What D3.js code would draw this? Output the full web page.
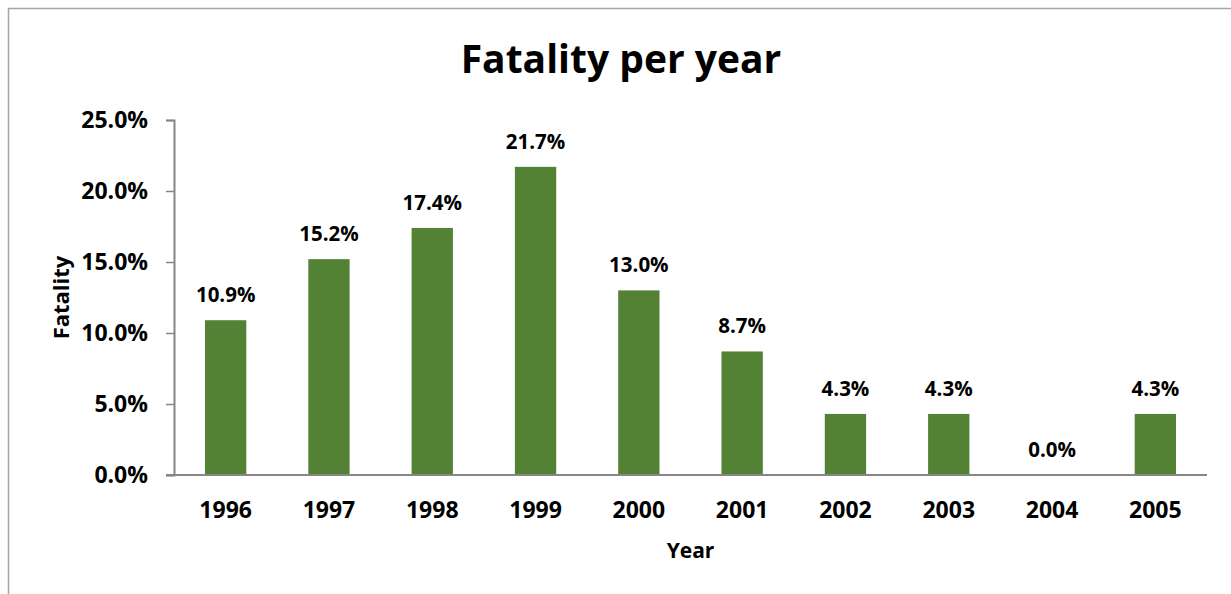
<!DOCTYPE html>
<html lang="en">
<head>
	<meta charset="UTF-8">
	<title>Fatality per year</title>
	<script src="https://cdn.jsdelivr.net/npm/d3@7"></script>
	<style>
		html, body{
			margin: 0;
			padding: 0;
			background: #fff;
		}
		svg{
			display: block;
			font-family: 'Open Sans', sans-serif;
			font-weight: bold;
		}
	</style>
</head>
<body>
	<div class="chart"></div>
	<script>
		var years = ['1996', '1997', '1998', '1999', '2000', '2001', '2002', '2003', '2004', '2005'];
		var fatality = [10.9, 15.2, 17.4, 21.7, 13.0, 8.7, 4.3, 4.3, 0.0, 4.3];
		var yTicks = [0, 5, 10, 15, 20, 25];

		var width = 1231;
		var height = 594;
		var padding = { top: 120, right: 24, bottom: 119, left: 174 };
		var innerW = width - padding.left - padding.right;
		var innerH = height - padding.top - padding.bottom;

		var svg = d3.select('.chart')
					.append('svg')
					.attr('width', width)
					.attr('height', height);

		// chart frame (runs off the right and bottom edge)
		svg.append('rect')
			.attr('x', 8.5)
			.attr('y', 8.5)
			.attr('width', width + 20)
			.attr('height', height + 20)
			.attr('fill', 'none')
			.attr('stroke', '#a6a6a6')
			.attr('stroke-width', 1.5);

		var xScale = d3.scaleBand()
						.domain(years)
						.range([0, innerW])
						.paddingInner(0.6)
						.paddingOuter(0.3);
		var yScale = d3.scaleLinear()
						.domain([0, 25])
						.range([innerH, 0]);

		var g = svg.append('g')
					.attr('transform', 'translate(' + padding.left + ',' + padding.top + ')');

		g.selectAll('rect.bar')
			.data(fatality)
			.enter()
			.append('rect')
			.attr('class', 'bar')
			.attr('x', function(d, i){ return xScale(years[i]); })
			.attr('y', function(d){ return yScale(d); })
			.attr('width', xScale.bandwidth())
			.attr('height', function(d){ return innerH - yScale(d); })
			.attr('fill', '#548235');

		g.selectAll('text.value')
			.data(fatality)
			.enter()
			.append('text')
			.attr('class', 'value')
			.attr('x', function(d, i){ return xScale(years[i]) + xScale.bandwidth() / 2; })
			.attr('y', function(d){ return yScale(d) - 18; })
			.attr('text-anchor', 'middle')
			.attr('font-size', '20.5px')
			.attr('fill', '#000')
			.text(function(d){ return d.toFixed(1) + '%'; });

		var yAxis = d3.axisLeft(yScale)
						.tickValues(yTicks)
						.tickSize(8)
						.tickPadding(18)
						.tickFormat(function(d){ return d.toFixed(1) + '%'; });
		var xAxis = d3.axisBottom(xScale)
						.tickSize(0)
						.tickPadding(27);

		var ya = g.append('g').attr('class', 'axis').call(yAxis);
		var xa = g.append('g').attr('class', 'axis')
					.attr('transform', 'translate(0,' + innerH + ')')
					.call(xAxis);

		[ya, xa].forEach(function(a){
			a.select('.domain').attr('stroke', '#868686').attr('stroke-width', 2);
			a.selectAll('.tick line').attr('stroke', '#868686').attr('stroke-width', 1.5);
			a.selectAll('.tick text')
				.attr('fill', '#000')
				.attr('font-family', "'Open Sans', sans-serif")
				.attr('font-weight', 'bold');
		});
		ya.selectAll('.tick text').attr('font-size', '23px');
		xa.selectAll('.tick text').attr('font-size', '23px');
		xa.select('.domain').attr('d', 'M-8,0H' + innerW);

		svg.append('text')
			.attr('x', 621)
			.attr('y', 73)
			.attr('text-anchor', 'middle')
			.attr('font-size', '39px')
			.attr('fill', '#000')
			.text('Fatality per year');

		svg.append('text')
			.attr('transform', 'translate(69,' + (padding.top + innerH / 2) + ') rotate(-90)')
			.attr('text-anchor', 'middle')
			.attr('font-size', '22px')
			.attr('fill', '#000')
			.text('Fatality');

		svg.append('text')
			.attr('x', padding.left + innerW / 2)
			.attr('y', 558)
			.attr('text-anchor', 'middle')
			.attr('font-size', '21px')
			.attr('fill', '#000')
			.text('Year');
	</script>
</body>
</html>
